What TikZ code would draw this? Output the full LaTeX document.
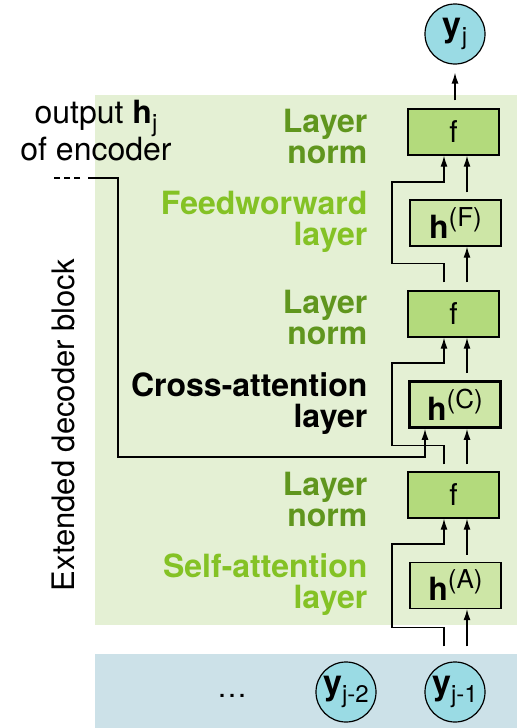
\documentclass[tikz,border=0pt]{standalone}
\usepackage{fontspec}
\setmainfont{TeX Gyre Heros}
\usetikzlibrary{arrows.meta}

\definecolor{blockbg}{RGB}{228,240,212}
\definecolor{inputbg}{RGB}{204,225,232}
\definecolor{tokenfill}{RGB}{154,219,228}
\definecolor{normfill}{RGB}{179,218,124}
\definecolor{layerfill}{RGB}{205,230,166}
\definecolor{normtext}{RGB}{96,150,30}
\definecolor{layertext}{RGB}{132,194,37}

\newcommand{\diagfont}{\fontsize{30}{31}\selectfont}
\newcommand{\lblfont}{\fontsize{32}{31}\selectfont\bfseries}
\newcommand{\lowidx}[1]{\raisebox{-0.25em}{\fontsize{24}{24}\selectfont\mdseries #1}}
\newcommand{\upidx}[1]{\raisebox{0.4em}{\fontsize{26}{26}\selectfont #1}}

\begin{document}
\begin{tikzpicture}[x=1pt,y=-1pt,>={Latex[length=11pt,width=7pt]},line width=1.3pt,
	every node/.style={font=\diagfont},
	fbox/.style={draw,fill=normfill,minimum width=91pt,minimum height=46pt,inner sep=0pt},
	hbox/.style={draw,fill=layerfill,minimum width=91pt,minimum height=46pt,inner sep=0pt},
	token/.style={circle,draw,line width=1.2pt,fill=tokenfill,minimum size=60pt,inner sep=0pt},
	lbl/.style={anchor=east,align=right,inner sep=0pt,font=\lblfont}]
		\useasboundingbox (0,0) rectangle (517,728);
		%backgrounds
		\fill[blockbg] (95,95) rectangle (517,625);
		\fill[inputbg] (95,654) rectangle (517,728);
		%inputs
		\node (dots) at (232,696) {…};
		\node[token] (yjm2) at (346,692) {{\fontsize{34}{34}\selectfont\bfseries y}\lowidx{j-2}};
		\node[token] (yjm1) at (455,692) {{\fontsize{34}{34}\selectfont\bfseries y}\lowidx{j-1}};
		%self-attention
			\node[hbox] (hA) at (455.5,585.5) {{\fontsize{32}{32}\selectfont\bfseries h}\upidx{(A)}};
			\node[fbox] (fA) at (453.5,495) {f};
			\node[lbl,text=layertext] (selflbl) at (368,585) {Self-attention\\layer};
			\node[lbl,text=normtext] (norm1lbl) at (368,499) {Layer\\norm};
		%cross-attention
			\node[hbox,line width=2.7pt] (hC) at (455,404.5) {{\fontsize{32}{32}\selectfont\bfseries h}\upidx{(C)}};
			\node[fbox] (fC) at (453.5,314) {f};
			\node[lbl] (crosslbl) at (368,404) {Cross-attention\\layer};
			\node[lbl,text=normtext] (norm2lbl) at (368,317) {Layer\\norm};
		%feedforward
			\node[hbox] (hF) at (455.5,223) {{\fontsize{32}{32}\selectfont\bfseries h}\upidx{(F)}};
			\node[fbox] (fF) at (453.5,132) {f};
			\node[lbl,text=layertext] (ffwdlbl) at (368,222) {Feedworward\\layer};
			\node[lbl,text=normtext] (norm3lbl) at (368,136) {Layer\\norm};
		%output
		\node[token] (yj) at (455,34) {{\fontsize{34}{34}\selectfont\bfseries y}\lowidx{j}};
		%labels
		\node[align=center,font=\fontsize{32}{37}\selectfont] (enclbl) at (96,131) {output \textbf{h}\lowidx{j}\\of encoder};
		\node[rotate=90] (blocklbl) at (63,425) {\fontsize{31}{31}\selectfont Extended decoder block};
		%encoder
		\coordinate (enc) at (88,178);
		\draw[dash pattern=on 6pt off 4pt] ([xshift=-8pt]enc) -- ++(-26,0);
		\draw[->] (enc) -- (118,178) -- (118,457) -- (425,457) -- ([xshift=-30pt]hC.south);
		% arrows, block 1
			\draw[->,shorten <=15pt] ([xshift=12pt]yjm1.north) -- ([xshift=11.5pt]hA.south);
			\draw[->,shorten <=15pt] ([xshift=-11pt]yjm1.north) -- ++(0,-34) -| (392,544) -- ++(52,0) -- ([xshift=-9.5pt]fA.south);
			\draw[->,shorten <=7pt] ([xshift=11.5pt]hA.north) -- ([xshift=13.5pt]fA.south);
		% arrows, block 2
			\draw[->,shorten <=7pt] ([xshift=13.5pt]fA.north) -- ([xshift=12pt]hC.south);
			\draw[->,shorten <=7pt] ([xshift=-9.5pt]fA.north) -- ++(0,-26) -| (392,363) -- ++(52,0) -- ([xshift=-9.5pt]fC.south);
			\draw[->,shorten <=7pt] ([xshift=12pt]hC.north) -- ([xshift=13.5pt]fC.south);
		% arrows, block 3
			\draw[->,shorten <=8pt] ([xshift=13.5pt]fC.north) -- ([xshift=11.5pt]hF.south);
			\draw[->,shorten <=8pt] ([xshift=-9.5pt]fC.north) -- ++(0,-27) -| (392,182) -- ++(52,0) -- ([xshift=-9.5pt]fF.south);
			\draw[->,shorten <=7pt] ([xshift=11.5pt]hF.north) -- ([xshift=13.5pt]fF.south);
		% output
		\draw[->,shorten <=8pt,shorten >=8pt] (yj.south |- fF.north) -- (yj.south);
	\end{tikzpicture}
\end{document}
